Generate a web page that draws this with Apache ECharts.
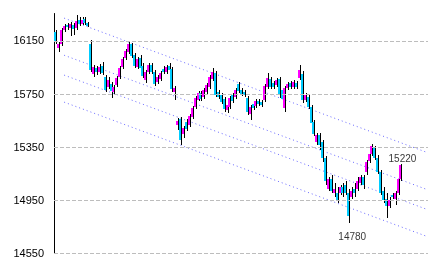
<!DOCTYPE html>
<html><head><meta charset="utf-8">
<script src="https://cdn.jsdelivr.net/npm/echarts@6/dist/echarts.min.js"></script>
<style>html,body{margin:0;padding:0;background:#fff}#c{width:433px;height:270px}</style>
</head><body><div id="c"></div>
<script>
// OHLC values (120 trading days)
const opens = [
16220,16100,16130,16235,16275,16250,16275,16250,16315,16280,16320,16290,
16130,15905,15950,15920,15965,15880,15805,15830,15770,15820,15880,15955,
16025,16070,16130,16050,15955,16025,15965,15860,15920,15970,15920,15845,
15865,15940,15920,15965,15940,15770,15520,15565,15450,15540,15520,15580,
15655,15705,15760,15730,15770,15805,15865,15910,15770,15745,15715,15630,
15655,15745,15730,15830,15785,15770,15725,15600,15675,15660,15700,15690,
15705,15805,15865,15835,15820,15865,15785,15645,15800,15835,15805,15835,
15875,15905,15705,15730,15655,15540,15390,15445,15390,15270,15040,15115,
15005,15010,15005,15050,15070,15010,14980,15040,15040,15085,15125,15165,
15245,15300,15345,15270,15165,15025,14965,14905,14995,14965,15005,15115];
const closes = [
16145,16130,16235,16265,16260,16280,16245,16305,16280,16315,16290,16265,
15935,15955,15920,15955,15910,15785,15860,15775,15805,15875,15950,16020,
16080,16130,16040,15965,16020,15950,15890,15920,15970,15920,15830,15880,
15910,15920,15955,15935,15790,15800,15550,15405,15495,15490,15585,15645,
15725,15760,15715,15785,15820,15880,15920,15745,15730,15690,15640,15670,
15725,15700,15785,15775,15755,15745,15615,15655,15645,15700,15675,15670,
15815,15875,15805,15805,15860,15745,15715,15800,15830,15805,15845,15805,
15935,15705,15745,15655,15535,15450,15445,15365,15270,15100,15115,15025,
15040,14950,15050,15005,15010,14835,15025,15005,15100,15125,15070,15240,
15300,15360,15270,15165,15010,14950,14905,14950,14975,15005,15115,15220];
const lows = [
16130,16070,16115,16220,16235,16190,16200,16235,16265,16275,16275,16260,
15920,15880,15895,15905,15895,15770,15790,15725,15745,15805,15865,15940,
16010,16055,16025,15950,15940,15920,15875,15835,15905,15905,15815,15830,
15850,15905,15905,15920,15770,15705,15480,15365,15425,15475,15505,15565,
15640,15700,15700,15715,15755,15790,15850,15730,15715,15675,15615,15610,
15640,15685,15715,15760,15740,15730,15595,15555,15630,15645,15660,15655,
15690,15790,15790,15790,15805,15725,15690,15615,15785,15790,15790,15790,
15860,15685,15690,15640,15520,15435,15365,15330,15240,15065,15025,15005,
14975,14930,14990,14980,14995,14780,14965,14980,15025,15070,15040,15140,
15230,15285,15255,15150,14995,14930,14820,14890,14960,14915,14990,15100];
const highs = [
16235,16145,16250,16280,16290,16300,16290,16350,16335,16335,16335,16300,
16160,15970,15965,15980,15995,15895,15880,15845,15820,15890,15965,16035,
16095,16145,16140,16065,16035,16050,15985,15935,15985,15985,15935,15895,
15925,15965,15970,15985,15955,15815,15570,15580,15510,15565,15600,15660,
15740,15775,15775,15800,15835,15895,15950,15925,15785,15760,15730,15685,
15740,15760,15800,15845,15800,15785,15740,15670,15690,15715,15715,15705,
15830,15910,15880,15850,15875,15880,15800,15815,15845,15850,15860,15850,
15970,15925,15760,15745,15670,15555,15460,15460,15405,15285,15130,15140,
15085,15055,15070,15080,15095,15035,15055,15080,15125,15140,15140,15255,
15315,15380,15360,15290,15180,15050,15010,14980,15010,15020,15130,15225];

const tickValues = [14550, 14950, 15350, 15750, 16150];
// parallel trend channel: value at start slot and end slot
const channelStart = [16326, 16046, 15896, 15692];
const channelEnd   = [15314, 15034, 14884, 14680];
const channelIdx = [3, 128];
const totalSlots = 129;
const categories = Array.from({length: totalSlots}, (_, i) => 'D' + (i + 1));
const lastLabel = {index: 119, value: 15220, text: '15220'};
const lowLabel = {index: 101, value: 14780, text: '14780'};

const candleData = closes.map((c, i) => [i, opens[i], c, lows[i], highs[i]]);

const chart = echarts.init(document.getElementById('c'));
const FONT = 'Liberation Sans';

const trendSeries = channelStart.map((s, k) => ({
  type: 'line',
  data: [[channelIdx[0], s], [channelIdx[1], channelEnd[k]]],
  showSymbol: false, symbol: 'none', silent: true, z: 1,
  lineStyle: {type: [1, 3], color: '#6a6aff', width: 1},
  markLine: k === 0 ? {
    silent: true, symbol: 'none', label: {show: false}, animation: false,
    lineStyle: {type: [4, 2], color: '#bdbdbd', width: 1},
    emphasis: {disabled: true},
    data: tickValues.map(v => ({yAxis: v}))
  } : undefined
}));

chart.setOption({
  animation: false,
  backgroundColor: '#fff',
  grid: {left: 54, right: 5, top: 13.5, bottom: 16.5, containLabel: false},
  xAxis: {type: 'category', data: categories, show: false, boundaryGap: true},
  yAxis: {
    type: 'value', min: 14550, max: 16361,
    axisLine: {show: true, lineStyle: {color: '#000', width: 1}},
    axisTick: {show: true, inside: true, length: 3, customValues: tickValues, lineStyle: {color: '#000'}},
    axisLabel: {customValues: tickValues, color: '#000', fontSize: 11, fontFamily: FONT, margin: 10,
      formatter: v => String(v)},
    splitLine: {show: false}
  },
  series: trendSeries.concat([
    {
      type: 'custom', z: 3,
      data: candleData,
      encode: {x: 0, y: [1, 2, 3, 4]},
      renderItem: function (params, api) {
        const i = api.value(0);
        const o = api.coord([i, api.value(1)]);
        const c = api.coord([i, api.value(2)]);
        const l = api.coord([i, api.value(3)]);
        const h = api.coord([i, api.value(4)]);
        const xc = Math.round(o[0]);
        const up = api.value(2) >= api.value(1);
        const top = Math.round(Math.min(o[1], c[1]));
        const bot = Math.max(Math.round(Math.max(o[1], c[1])), top + 1);
        const hy = Math.round(h[1]), ly = Math.round(l[1]);
        return {type: 'group', children: [
          {type: 'rect', shape: {x: xc + 1, y: hy, width: 1, height: Math.max(1, ly - hy)}, style: {fill: '#000'}},
          {type: 'rect', shape: {x: xc - 1, y: top, width: 2, height: bot - top}, style: {fill: up ? '#ff00ff' : '#00ccff'}}
        ]};
      }
    },
    {
      type: 'scatter', z: 5, silent: true, symbolSize: 1,
      itemStyle: {color: 'rgba(0,0,0,0)'},
      data: [[lastLabel.index, lastLabel.value]],
      label: {show: true, formatter: lastLabel.text, position: 'inside', offset: [2, -5], color: '#000', fontSize: 10, fontFamily: FONT}
    },
    {
      type: 'scatter', z: 5, silent: true, symbolSize: 1,
      itemStyle: {color: 'rgba(0,0,0,0)'},
      data: [[lowLabel.index, lowLabel.value]],
      label: {show: true, formatter: lowLabel.text, position: 'inside', offset: [4, 14], color: '#000', fontSize: 10, fontFamily: FONT}
    }
  ])
});
</script>
</body></html>
